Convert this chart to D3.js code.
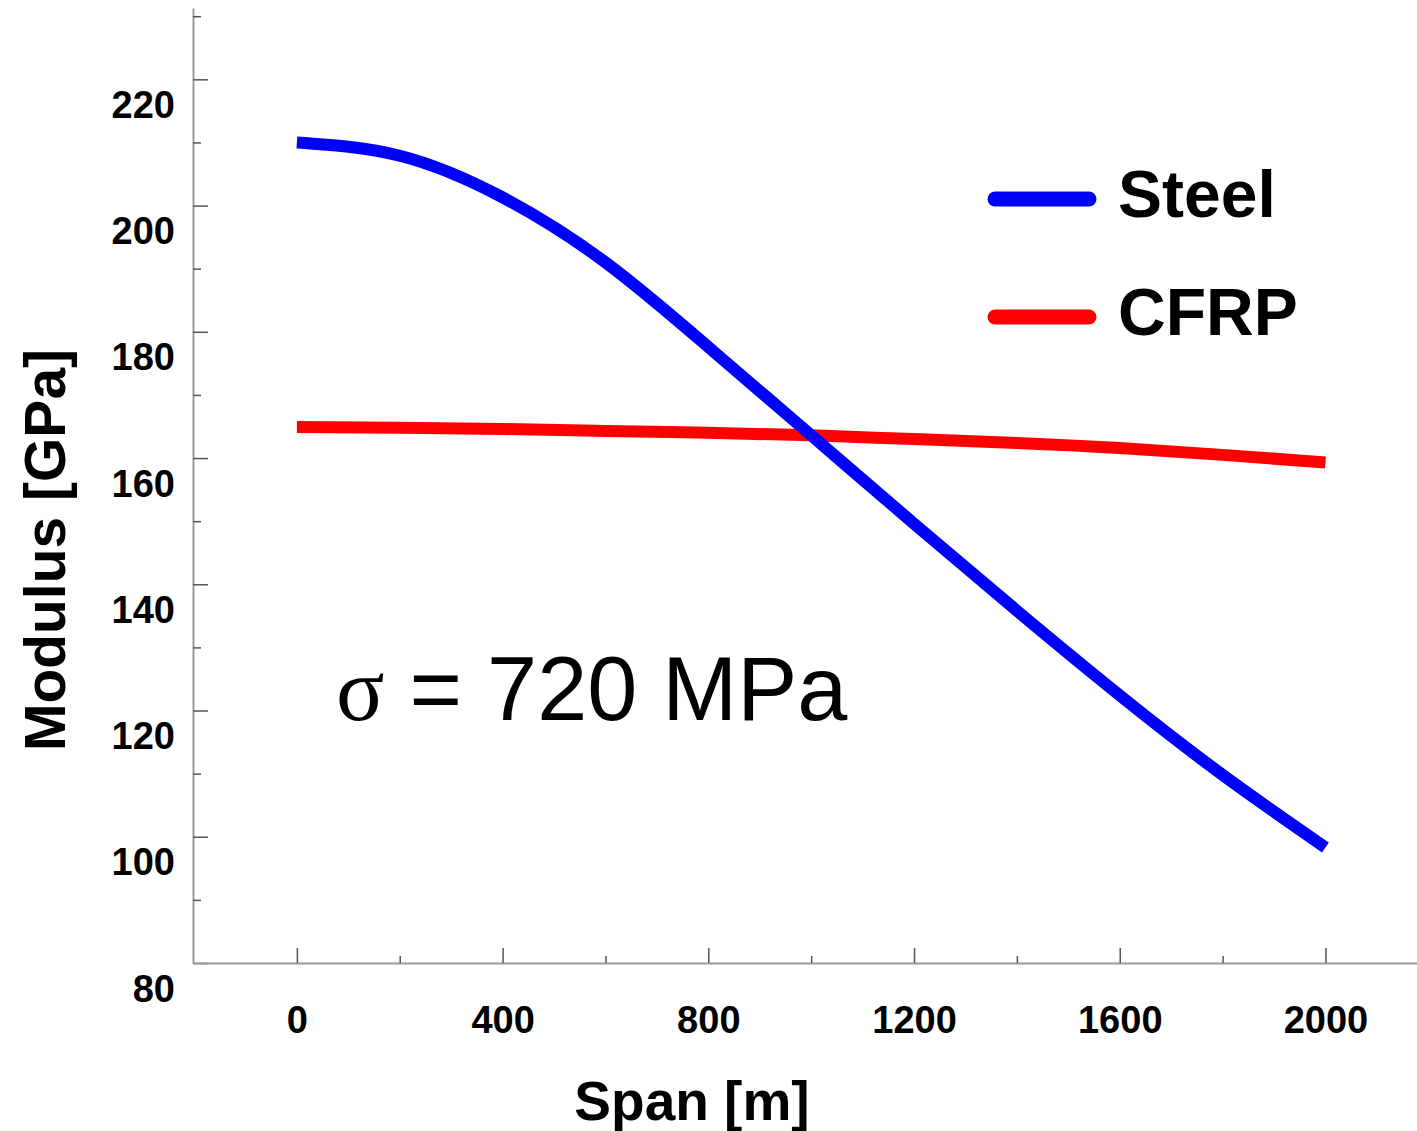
<!DOCTYPE html>
<html>
<head>
    <title>Modulus vs Span</title>
    <script src="https://d3js.org/d3.v7.min.js"></script>
    <style>
        body { margin: 0; background: #fff; }
        text { font-family: "Liberation Sans", Arial, sans-serif; }
    </style>
</head>
<body>
    <div id="chart"></div>

    <script>
        // Span [m]
        const spans = [0, 200, 400, 600, 800, 1000, 1200, 1400, 1600, 1800, 2000];
        // Modulus [GPa]
        const steel = [210.0, 207.9, 201.3, 191.0, 177.6, 163.6, 149.6, 135.8, 122.4, 109.8, 98.3];
        const cfrp  = [164.9, 164.8, 164.6, 164.3, 164.0, 163.6, 163.0, 162.4, 161.6, 160.5, 159.3];

        const xTicks = [0, 400, 800, 1200, 1600, 2000];
        const xMinor = [200, 600, 1000, 1400, 1800];
        const yTicks = [80, 100, 120, 140, 160, 180, 200, 220];
        const yMinor = [90, 110, 130, 150, 170, 190, 210, 230];

        const series = [
            { name: "Steel", values: steel, color: "#0000ff" },
            { name: "CFRP", values: cfrp, color: "#ff0000" }
        ];

        const W = 1417, H = 1131;

        const svg = d3.select("#chart")
            .append("svg")
            .attr("width", W)
            .attr("height", H);

        const x = d3.scaleLinear().domain([-202, 2178]).range([193, 1417]);
        const y = d3.scaleLinear().domain([80, 231.3]).range([963, 8]);

        // y axis (ticks inward, labels dropped below each tick)
        const gy = svg.append("g")
            .attr("transform", "translate(193,0)")
            .call(d3.axisLeft(y).tickValues(yTicks).tickSizeInner(-15).tickSizeOuter(0).tickPadding(18));
        svg.append("g")
            .attr("transform", "translate(193,0)")
            .call(d3.axisLeft(y).tickValues(yMinor).tickSizeInner(-8).tickSizeOuter(0).tickFormat(""))
            .select(".domain").remove();

        // x axis (ticks inward)
        const gx = svg.append("g")
            .attr("transform", "translate(0,963)")
            .call(d3.axisBottom(x).tickValues(xTicks).tickFormat(d3.format("d"))
                .tickSizeInner(-15).tickSizeOuter(0).tickPadding(0));
        svg.append("g")
            .attr("transform", "translate(0,963)")
            .call(d3.axisBottom(x).tickValues(xMinor).tickSizeInner(-7).tickSizeOuter(0).tickFormat(""))
            .select(".domain").remove();

        svg.selectAll(".domain").attr("stroke", "#9a9a9a").attr("stroke-width", 2);
        svg.selectAll(".tick line").attr("stroke", "#555").attr("stroke-width", 1.5);

        gy.selectAll(".tick text")
            .attr("x", -18)
            .attr("dy", null)
            .attr("y", 38)
            .attr("font-size", 38)
            .attr("font-weight", "bold")
            .attr("fill", "#000")
            .style("font-family", "'Liberation Sans', Arial, sans-serif");

        gx.selectAll(".tick text")
            .attr("dy", null)
            .attr("y", 70)
            .attr("font-size", 38)
            .attr("font-weight", "bold")
            .attr("fill", "#000")
            .style("font-family", "'Liberation Sans', Arial, sans-serif");

        // curves
        const line = d3.line()
            .x((d, i) => x(spans[i]))
            .y(d => y(d))
            .curve(d3.curveNatural);

        series.slice().reverse().forEach(s => {
            svg.append("path")
                .datum(s.values)
                .attr("fill", "none")
                .attr("stroke", s.color)
                .attr("stroke-width", 12)
                .attr("d", line);
        });

        // legend
        const legend = svg.append("g");
        series.forEach((s, i) => {
            const ly = 199 + i * 118;
            legend.append("line")
                .attr("x1", 995).attr("x2", 1089)
                .attr("y1", ly).attr("y2", ly)
                .attr("stroke", s.color)
                .attr("stroke-width", 15)
                .attr("stroke-linecap", "round");
            legend.append("text")
                .attr("x", 1118)
                .attr("y", ly + 18)
                .attr("font-size", 66)
                .attr("font-weight", "bold")
                .text(s.name);
        });

        // annotation
        const ann = svg.append("text")
            .attr("x", 336)
            .attr("y", 720)
            .attr("font-size", 90);
        ann.append("tspan").style("font-family", "'Liberation Serif', 'Times New Roman', serif").text("σ");
        ann.append("tspan").text(" = 720 MPa");

        // axis titles
        svg.append("text")
            .attr("x", 692)
            .attr("y", 1120)
            .attr("text-anchor", "middle")
            .attr("font-size", 55)
            .attr("font-weight", "bold")
            .text("Span [m]");

        svg.append("text")
            .attr("transform", "translate(65,550) rotate(-90)")
            .attr("text-anchor", "middle")
            .attr("font-size", 57)
            .attr("font-weight", "bold")
            .text("Modulus [GPa]");
    </script>
</body>
</html>
